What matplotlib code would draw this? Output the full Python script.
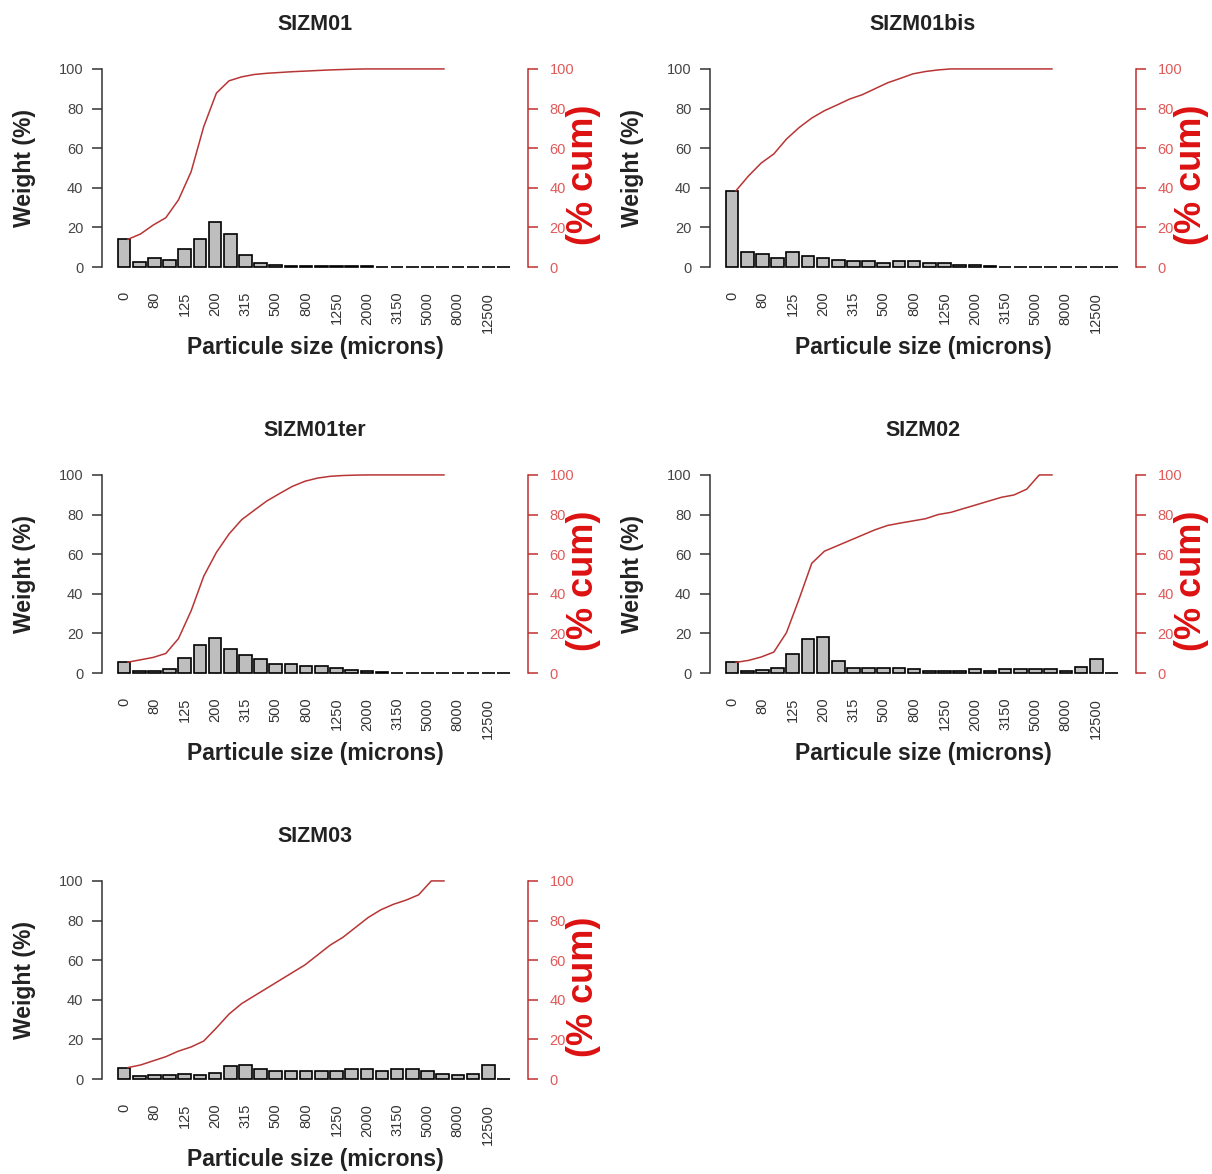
import matplotlib
matplotlib.use("Agg")
import matplotlib.pyplot as plt
import numpy as np

plt.rcParams['font.family'] = ['Liberation Sans', 'DejaVu Sans']

# classes granulométriques (microns) - 26 barres, une étiquette sur deux affichée
sizes = ["0", "63", "80", "100", "125", "160", "200", "250", "315", "400", "500", "630",
         "800", "1000", "1250", "1600", "2000", "2500", "3150", "4000", "5000", "6300",
         "8000", "10000", "12500", "16000"]

# poids (%) par classe
sizm01 = [14.0, 2.7, 4.5, 3.7, 9.0, 14.2, 22.8, 16.9, 6.2, 2.0, 1.2, 0.6, 0.4,
          0.4, 0.3, 0.3, 0.3, 0.2, 0.2, 0.1, 0, 0, 0, 0, 0, 0]
sizm01bis = [38.5, 7.5, 6.5, 4.6, 7.5, 5.8, 4.8, 3.7, 2.9, 3.0, 2.2, 3.0, 3.0,
             2.2, 2.3, 1.2, 0.8, 0.5, 0, 0, 0, 0, 0, 0, 0, 0]
sizm01ter = [5.5, 1.2, 1.2, 2.0, 7.5, 14.0, 17.5, 12.0, 9.3, 7.2, 4.8, 4.7, 3.7,
             3.6, 2.6, 1.6, 0.9, 0.4, 0.2, 0.1, 0, 0, 0, 0, 0, 0]
sizm02 = [5.4, 1.0, 1.7, 2.5, 9.8, 17.0, 18.0, 6.1, 2.7, 2.7, 2.7, 2.7, 2.2,
          1.2, 1.1, 1.1, 2.1, 1.1, 1.9, 1.9, 1.9, 1.9, 1.2, 2.9, 7.2, 0]
sizm03 = [5.8, 1.3, 2.1, 2.1, 2.8, 2.1, 3.0, 6.6, 7.0, 5.3, 3.9, 3.9, 3.9,
          3.9, 3.9, 5.0, 5.0, 3.9, 5.0, 5.0, 3.9, 2.8, 2.1, 2.7, 7.0, 0]

samples = [("SIZM01", sizm01), ("SIZM01bis", sizm01bis), ("SIZM01ter", sizm01ter),
           ("SIZM02", sizm02), ("SIZM03", sizm03)]

W, H = 1212, 1174
fig = plt.figure(figsize=(W / 100, H / 100), dpi=100)

# zones de tracé en pixels (gauche, haut)
lefts = [102, 710]
tops = [61, 467, 873]
pw, ph = 426, 214

for k, (nom, poids) in enumerate(samples):
    l = lefts[k % 2]
    t = tops[k // 2]
    rect = [l / W, (H - t - ph) / H, pw / W, ph / H]
    ax = fig.add_axes(rect)

    poids = np.array(poids, dtype=float)
    n = len(poids)
    x = 0.7 + 1.2 * np.arange(n)   # comme barplot() de R
    ax.bar(x, poids, width=1.0, color="#bebebe", edgecolor="black", linewidth=1.2)
    ax.set_xlim(0.2 - 0.04 * 1.2 * n, 0.2 + 1.2 * n + 0.04 * 1.2 * n)
    ax.set_ylim(-4, 104)

    for s in ["top", "right", "bottom"]:
        ax.spines[s].set_visible(False)
    ax.spines["left"].set_bounds(0, 100)
    ax.spines["left"].set_linewidth(1.1)
    ax.spines["left"].set_color("#333333")
    ax.set_yticks(np.arange(0, 101, 20))
    ax.tick_params(axis="y", length=7.5, width=1.1, pad=6, labelsize=10.5,
                   color="#333333", labelcolor="#444444")
    ax.set_xticks(x[::2])
    ax.set_xticklabels(sizes[::2], rotation=90, va="top")
    ax.tick_params(axis="x", length=0, pad=12, labelsize=10.5, labelcolor="#333333")

    ax.text(0.5, 1.17, nom, transform=ax.transAxes, ha="center", va="center",
            fontsize=15.5, fontweight="bold", color="#222222")
    ax.text(-0.181, 0.5, "Weight (%)", transform=ax.transAxes, rotation=90,
            ha="center", va="center", fontsize=16.5, fontweight="bold", color="#222222")
    ax.text(0.5, -0.341, "Particule size (microns)", transform=ax.transAxes,
            ha="center", va="center", fontsize=16.5, fontweight="bold", color="#222222")

    # courbe cumulée (axe de droite)
    cum = np.cumsum(poids) / poids.sum() * 100
    ax2 = ax.twinx()
    ax2.plot(np.arange(1, n + 1), cum, color="#b83535", linewidth=1.1)
    ax2.set_ylim(-4, 104)
    for s in ["top", "left", "bottom"]:
        ax2.spines[s].set_visible(False)
    ax2.spines["right"].set_bounds(0, 100)
    ax2.spines["right"].set_color("#c03030")
    ax2.spines["right"].set_linewidth(1.1)
    ax2.set_yticks(np.arange(0, 101, 20))
    ax2.tick_params(axis="y", length=7.5, width=1.1, pad=8, labelsize=10.5,
                    color="#c03030", labelcolor="#e05a5a")
    ax2.text(1.13, 0.47, "(% cum)", transform=ax2.transAxes, rotation=90,
             ha="center", va="center", fontsize=26, fontweight="bold", color="#dd1111")

fig.savefig("out.png", dpi=100)
